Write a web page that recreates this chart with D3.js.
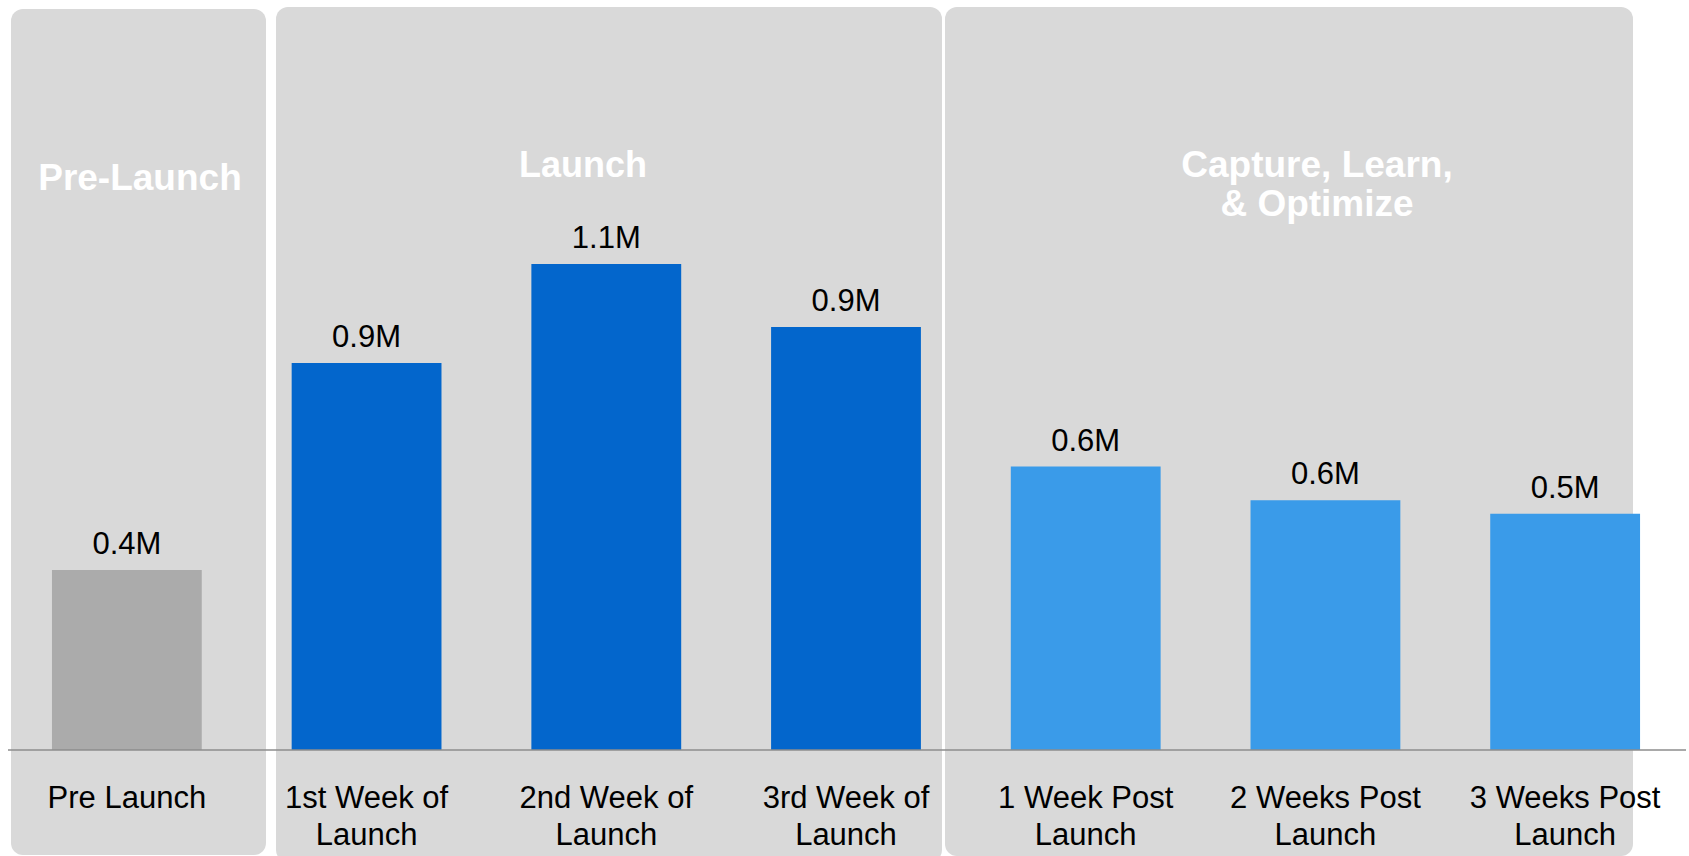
<!DOCTYPE html>
<html>
<head>
<meta charset="utf-8">
<script src="https://cdn.jsdelivr.net/npm/d3@7"></script>
<style>
  html, body { margin: 0; padding: 0; background: #ffffff; }
  svg { display: block; font-family: "Liberation Sans", Arial, sans-serif; }
</style>
</head>
<body>
<svg id="chart" width="1689" height="856"></svg>
<script>
// Weekly reach (millions) around the launch window
const categories = [
  "Pre Launch",
  "1st Week of Launch",
  "2nd Week of Launch",
  "3rd Week of Launch",
  "1 Week Post Launch",
  "2 Weeks Post Launch",
  "3 Weeks Post Launch"
];
const categoryLines = [
  ["Pre Launch"],
  ["1st Week of", "Launch"],
  ["2nd Week of", "Launch"],
  ["3rd Week of", "Launch"],
  ["1 Week Post", "Launch"],
  ["2 Weeks Post", "Launch"],
  ["3 Weeks Post", "Launch"]
];
const values = [0.40, 0.86, 1.08, 0.94, 0.63, 0.555, 0.525];
const phaseOf = ["pre", "launch", "launch", "launch", "post", "post", "post"];

const phases = ["pre", "launch", "post"];
const phaseTitles = [["Pre-Launch"], ["Launch"], ["Capture, Learn,", "& Optimize"]];

// Layout and styling
const W = 1689, H = 856;
const baseY = 750;
const phaseFill = { pre: "#ababab", launch: "#0366cc", post: "#3a9be9" };
const panelFrames = {
  pre:    { x0: 11,  x1: 266,  y0: 9, y1: 855, titleX: 140,  titleY: 190, size: 37 },
  launch: { x0: 276, x1: 942,  y0: 7, y1: 862, titleX: 583,  titleY: 177, size: 36 },
  post:   { x0: 945, x1: 1633, y0: 7, y1: 856, titleX: 1317, titleY: 177, size: 37 }
};

const svg = d3.select("#chart");

const x = d3.scaleBand()
  .domain(categories)
  .range([7, 1685])
  .paddingInner(0.375)
  .paddingOuter(0.1875);

const y = d3.scaleLinear()
  .domain([0, 1.5])
  .range([baseY, baseY - 1.5 * 450]);

// Phase panels
const panels = svg.append("g");
phases.forEach((p, i) => {
  const f = panelFrames[p];
  panels.append("rect")
    .attr("x", f.x0).attr("y", f.y0)
    .attr("width", f.x1 - f.x0).attr("height", f.y1 - f.y0)
    .attr("rx", 12).attr("ry", 12)
    .attr("fill", "#d9d9d9");
  const t = panels.append("text")
    .attr("x", f.titleX).attr("y", f.titleY)
    .attr("text-anchor", "middle")
    .attr("font-weight", "bold")
    .attr("font-size", f.size)
    .attr("fill", "#ffffff");
  phaseTitles[i].forEach((line, j) => {
    t.append("tspan").attr("x", f.titleX).attr("dy", j === 0 ? 0 : 39).text(line);
  });
});

// Bars
const data = categories.map((c, i) => ({ c, v: values[i], phase: phaseOf[i], lines: categoryLines[i] }));
const fmt = d3.format(".1f");

svg.append("g").selectAll("rect")
  .data(data)
  .join("rect")
  .attr("x", d => x(d.c))
  .attr("width", x.bandwidth())
  .attr("y", d => y(d.v))
  .attr("height", d => y(0) - y(d.v))
  .attr("fill", d => phaseFill[d.phase]);

// Value labels
svg.append("g").selectAll("text")
  .data(data)
  .join("text")
  .attr("x", d => x(d.c) + x.bandwidth() / 2)
  .attr("y", d => y(d.v) - 16)
  .attr("text-anchor", "middle")
  .attr("font-size", 31)
  .attr("fill", "#000")
  .text(d => fmt(d.v) + "M");

// Baseline
svg.append("line")
  .attr("x1", 8).attr("x2", 1686)
  .attr("y1", y(0)).attr("y2", y(0))
  .attr("stroke", "#8c8c8c")
  .attr("stroke-width", 1.5);

// Category labels
const cat = svg.append("g").selectAll("text")
  .data(data)
  .join("text")
  .attr("x", d => x(d.c) + x.bandwidth() / 2)
  .attr("y", 808)
  .attr("text-anchor", "middle")
  .attr("font-size", 31)
  .attr("fill", "#000");
cat.each(function(d) {
  const t = d3.select(this);
  const cx = x(d.c) + x.bandwidth() / 2;
  d.lines.forEach((line, j) => {
    t.append("tspan").attr("x", cx).attr("dy", j === 0 ? 0 : 37).text(line);
  });
});
</script>
</body>
</html>
